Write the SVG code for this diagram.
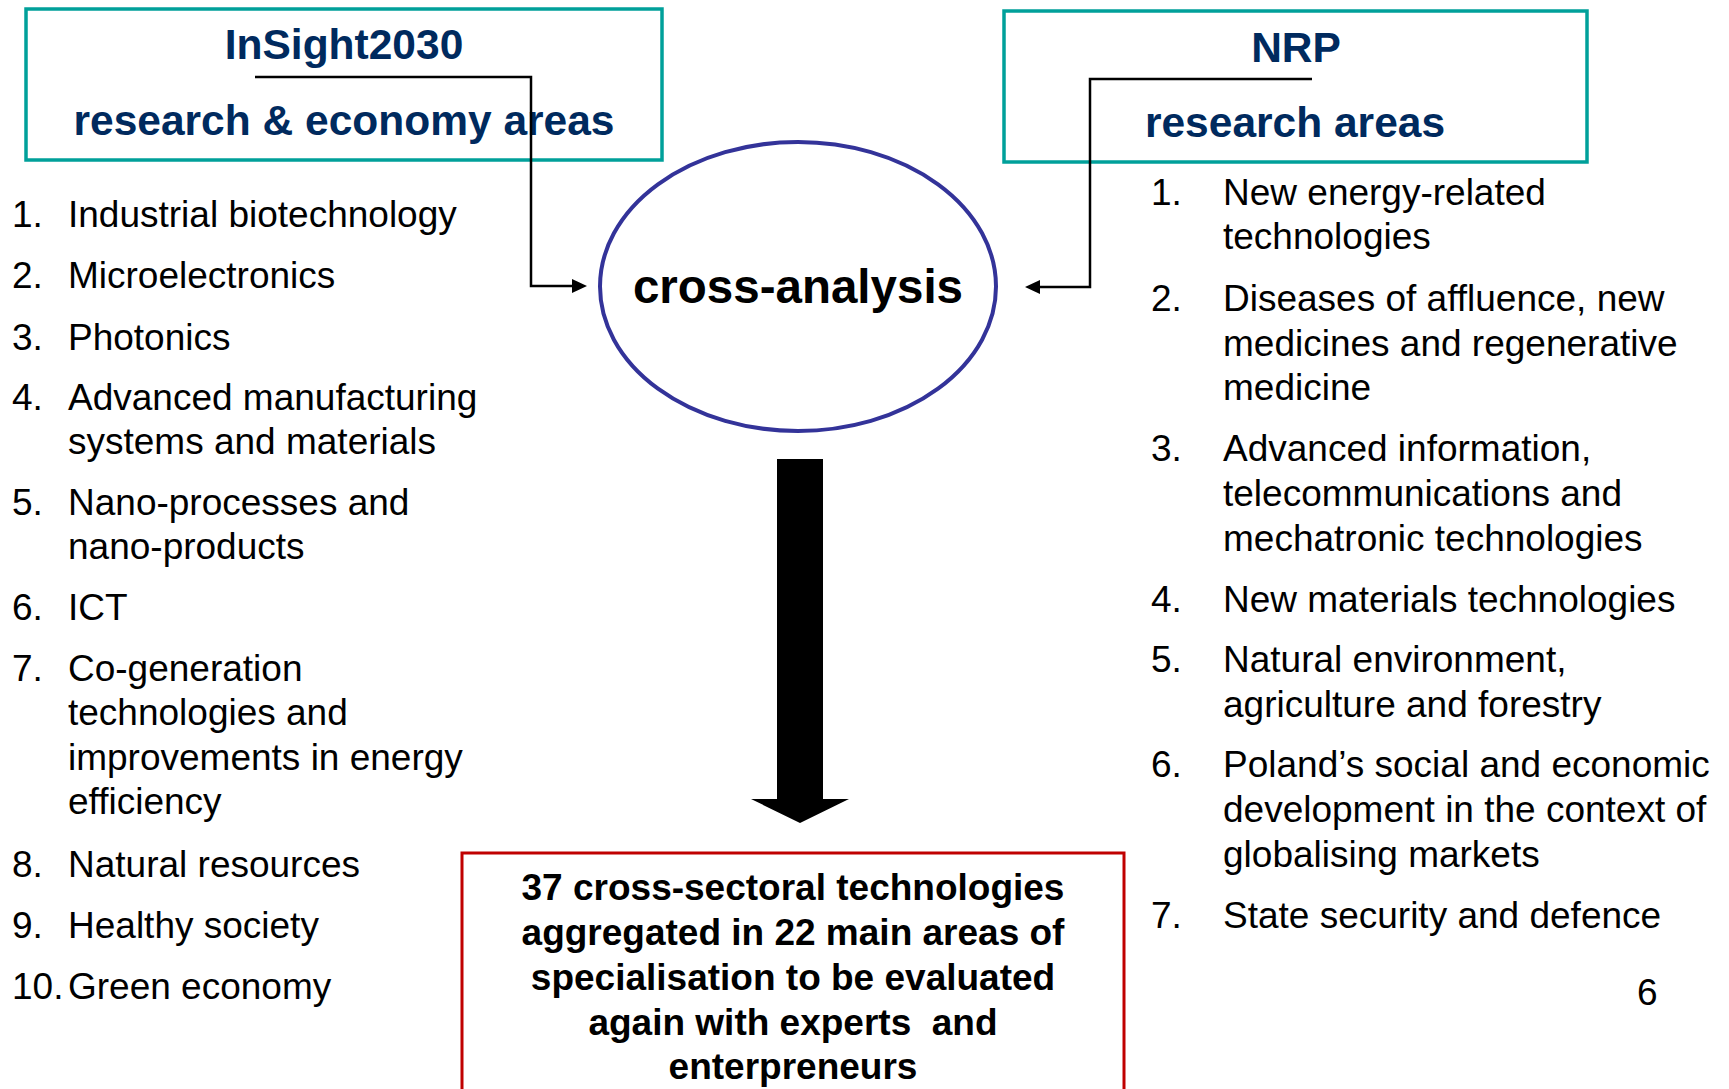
<svg xmlns="http://www.w3.org/2000/svg" width="1729" height="1089" viewBox="0 0 1729 1089">
<defs>
<style>
.box{fill:none;stroke:#00A09A;stroke-width:3.5}
.hd{font-family:"Liberation Sans",Arial,sans-serif;font-weight:bold;font-size:42.5px;fill:#002A5E;text-anchor:middle}
.li{font-family:"Liberation Sans",Arial,sans-serif;font-size:37px;fill:#000}
.res{font-family:"Liberation Sans",Arial,sans-serif;font-weight:bold;font-size:37px;fill:#000;text-anchor:middle;white-space:pre}
.con{fill:none;stroke:#000;stroke-width:2.5}
</style>
</defs>
<rect width="1729" height="1089" fill="#fff"/>

<g id="insight">
<rect class="box" x="26" y="9" width="636" height="151"/>
<text class="hd" x="344" y="59">InSight2030</text>
<text class="hd" x="344" y="135">research &amp; economy areas</text>
</g>

<g id="nrp">
<rect class="box" x="1004" y="11" width="583" height="151"/>
<text class="hd" x="1296" y="62">NRP</text>
<text class="hd" x="1295" y="137">research areas</text>
</g>

<g id="cross">
<ellipse cx="798" cy="286.5" rx="198" ry="144.5" fill="#fff" stroke="#333399" stroke-width="4"/>
<text x="798" y="303" font-family="Liberation Sans, Arial, sans-serif" font-weight="bold" font-size="47.5" text-anchor="middle" fill="#000">cross-analysis</text>
</g>

<g id="left-list" class="li">
<text x="12" y="227">1.</text><text x="68" y="227">Industrial biotechnology</text>
<text x="12" y="288">2.</text><text x="68" y="288">Microelectronics</text>
<text x="12" y="350">3.</text><text x="68" y="350">Photonics</text>
<text x="12" y="410">4.</text><text x="68" y="410">Advanced manufacturing</text>
<text x="68" y="454">systems and materials</text>
<text x="12" y="515">5.</text><text x="68" y="515">Nano-processes and</text>
<text x="68" y="559">nano-products</text>
<text x="12" y="620">6.</text><text x="68" y="620">ICT</text>
<text x="12" y="681">7.</text><text x="68" y="681">Co-generation</text>
<text x="68" y="725">technologies and</text>
<text x="68" y="770">improvements in energy</text>
<text x="68" y="814">efficiency</text>
<text x="12" y="877">8.</text><text x="68" y="877">Natural resources</text>
<text x="12" y="938">9.</text><text x="68" y="938">Healthy society</text>
<text x="12" y="999">10.</text><text x="68" y="999">Green economy</text>
</g>

<g id="right-list" class="li">
<text x="1151" y="205">1.</text><text x="1223" y="205">New energy-related</text>
<text x="1223" y="249">technologies</text>
<text x="1151" y="311">2.</text><text x="1223" y="311">Diseases of affluence, new</text>
<text x="1223" y="356">medicines and regenerative</text>
<text x="1223" y="400">medicine</text>
<text x="1151" y="461">3.</text><text x="1223" y="461">Advanced information,</text>
<text x="1223" y="506">telecommunications and</text>
<text x="1223" y="551">mechatronic technologies</text>
<text x="1151" y="612">4.</text><text x="1223" y="612">New materials technologies</text>
<text x="1151" y="672">5.</text><text x="1223" y="672">Natural environment,</text>
<text x="1223" y="717">agriculture and forestry</text>
<text x="1151" y="777">6.</text><text x="1223" y="777">Poland’s social and economic</text>
<text x="1223" y="822">development in the context of</text>
<text x="1223" y="867">globalising markets</text>
<text x="1151" y="928">7.</text><text x="1223" y="928">State security and defence</text>
</g>

<g id="page-number" class="li">
<text x="1637" y="1005">6</text>
</g>

<g id="result">
<rect x="462" y="853" width="662" height="260" fill="none" stroke="#C00000" stroke-width="3"/>
<text class="res" x="793" y="900">37 cross-sectoral technologies</text>
<text class="res" x="793" y="945">aggregated in 22 main areas of</text>
<text class="res" x="793" y="990">specialisation to be evaluated</text>
<text class="res" x="793" y="1035">again with experts  and</text>
<text class="res" x="793" y="1079">enterpreneurs</text>
</g>

<g id="connectors">
<path class="con" d="M255,77 H531 V286 H574"/>
<polygon points="587,286 572,279 572,293" fill="#000"/>
<path class="con" d="M1312,79 H1090 V287 H1038"/>
<polygon points="1025,287 1040,280 1040,294" fill="#000"/>
<polygon points="777,459 823,459 823,799 849,799 800,823 751,799 777,799" fill="#000"/>
</g>
</svg>
